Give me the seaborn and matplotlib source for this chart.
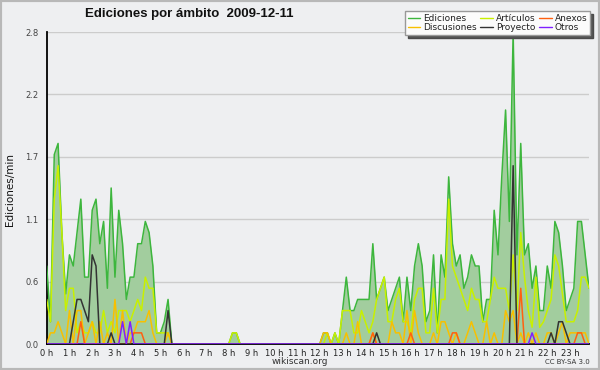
import numpy as np
import matplotlib
matplotlib.use('Agg')
import matplotlib.pyplot as plt
import seaborn as sns
from matplotlib.ticker import MultipleLocator
from matplotlib.lines import Line2D
from matplotlib.patches import Rectangle

sns.set_style('white')
plt.rcParams['font.family'] = ['DejaVu Sans']

# 10-minute bins across the day (144 bins)
minutes = np.arange(0, 1440, 10)
hours = minutes / 60

hour_labels = [f'{h} h' for h in range(24)]
y_ticks = [0.0, 0.56, 1.12, 1.68, 2.24, 2.8]
y_tick_labels = ['0.0', '0.6', '1.1', '1.7', '2.2', '2.8']

# edits per minute
ediciones = [
    0.7, 0.2, 1.7, 1.8, 1.0, 0.45, 0.8, 0.7, 1.0, 1.3, 0.6, 0.6,
    1.2, 1.3, 0.9, 1.1, 0.5, 1.4, 0.6, 1.2, 0.9, 0.4, 0.6, 0.6,
    0.9, 0.9, 1.1, 1.0, 0.7, 0.1, 0.1, 0.2, 0.4, 0.0, 0.0, 0.0,
    0.0, 0.0, 0.0, 0.0, 0.0, 0.0, 0.0, 0.0, 0.0, 0.0, 0.0, 0.0,
    0.0, 0.1, 0.1, 0.0, 0.0, 0.0, 0.0, 0.0, 0.0, 0.0, 0.0, 0.0,
    0.0, 0.0, 0.0, 0.0, 0.0, 0.0, 0.0, 0.0, 0.0, 0.0, 0.0, 0.0,
    0.0, 0.1, 0.1, 0.0, 0.1, 0.0, 0.3, 0.6, 0.3, 0.3, 0.4, 0.4,
    0.4, 0.4, 0.9, 0.4, 0.5, 0.6, 0.3, 0.4, 0.5, 0.6, 0.2, 0.6,
    0.3, 0.7, 0.9, 0.7, 0.2, 0.3, 0.8, 0.1, 0.8, 0.6, 1.5, 0.9,
    0.7, 0.8, 0.5, 0.6, 0.8, 0.7, 0.7, 0.2, 0.4, 0.4, 1.2, 0.8,
    1.5, 2.1, 1.1, 2.8, 0.8, 1.8, 0.8, 0.9, 0.5, 0.7, 0.3, 0.3,
    0.7, 0.5, 1.1, 1.0, 0.7, 0.3, 0.4, 0.5, 1.1, 1.1, 0.8, 0.5,
]
articulos = [
    0.4, 0.2, 1.3, 1.6, 1.0, 0.3, 0.5, 0.5, 0.1, 0.2, 0.1, 0.1,
    0.2, 0.1, 0.1, 0.3, 0.1, 0.2, 0.1, 0.3, 0.3, 0.3, 0.2, 0.3,
    0.4, 0.3, 0.6, 0.5, 0.5, 0.1, 0.1, 0.1, 0.1, 0.0, 0.0, 0.0,
    0.0, 0.0, 0.0, 0.0, 0.0, 0.0, 0.0, 0.0, 0.0, 0.0, 0.0, 0.0,
    0.0, 0.1, 0.1, 0.0, 0.0, 0.0, 0.0, 0.0, 0.0, 0.0, 0.0, 0.0,
    0.0, 0.0, 0.0, 0.0, 0.0, 0.0, 0.0, 0.0, 0.0, 0.0, 0.0, 0.0,
    0.0, 0.0, 0.1, 0.0, 0.1, 0.0, 0.3, 0.3, 0.3, 0.1, 0.1, 0.3,
    0.2, 0.1, 0.2, 0.4, 0.5, 0.6, 0.2, 0.2, 0.4, 0.5, 0.2, 0.2,
    0.1, 0.4, 0.5, 0.5, 0.1, 0.1, 0.5, 0.1, 0.4, 0.4, 1.3, 0.7,
    0.6, 0.5, 0.4, 0.3, 0.5, 0.4, 0.4, 0.2, 0.2, 0.4, 0.6, 0.5,
    0.5, 0.5, 0.3, 0.8, 0.3, 1.0, 0.6, 0.3, 0.15, 0.6, 0.15, 0.2,
    0.3, 0.4, 0.8, 0.7, 0.45, 0.2, 0.2, 0.2, 0.3, 0.6, 0.6, 0.5,
]
discusiones = [
    0.0, 0.1, 0.1, 0.2, 0.1, 0.0, 0.3, 0.0, 0.3, 0.3, 0.0, 0.1,
    0.2, 0.0, 0.2, 0.0, 0.1, 0.0, 0.4, 0.0, 0.3, 0.0, 0.1, 0.1,
    0.2, 0.2, 0.2, 0.3, 0.1, 0.0, 0.0, 0.0, 0.1, 0.0, 0.0, 0.0,
    0.0, 0.0, 0.0, 0.0, 0.0, 0.0, 0.0, 0.0, 0.0, 0.0, 0.0, 0.0,
    0.0, 0.0, 0.0, 0.0, 0.0, 0.0, 0.0, 0.0, 0.0, 0.0, 0.0, 0.0,
    0.0, 0.0, 0.0, 0.0, 0.0, 0.0, 0.0, 0.0, 0.0, 0.0, 0.0, 0.0,
    0.0, 0.1, 0.1, 0.0, 0.0, 0.0, 0.0, 0.1, 0.0, 0.0, 0.2, 0.0,
    0.0, 0.0, 0.1, 0.0, 0.0, 0.0, 0.0, 0.2, 0.1, 0.1, 0.0, 0.3,
    0.0, 0.3, 0.1, 0.0, 0.0, 0.0, 0.1, 0.0, 0.2, 0.2, 0.1, 0.0,
    0.1, 0.0, 0.0, 0.1, 0.2, 0.1, 0.0, 0.0, 0.2, 0.0, 0.1, 0.0,
    0.0, 0.3, 0.2, 0.3, 0.0, 0.1, 0.0, 0.1, 0.0, 0.1, 0.0, 0.0,
    0.1, 0.1, 0.0, 0.1, 0.2, 0.0, 0.1, 0.1, 0.1, 0.1, 0.1, 0.0,
]
proyecto = [
    0.0, 0.0, 0.0, 0.0, 0.0, 0.0, 0.0, 0.2, 0.4, 0.4, 0.3, 0.2,
    0.8, 0.7, 0.0, 0.0, 0.0, 0.1, 0.0, 0.0, 0.0, 0.0, 0.0, 0.0,
    0.0, 0.0, 0.0, 0.0, 0.0, 0.0, 0.0, 0.0, 0.3, 0.0, 0.0, 0.0,
    0.0, 0.0, 0.0, 0.0, 0.0, 0.0, 0.0, 0.0, 0.0, 0.0, 0.0, 0.0,
    0.0, 0.0, 0.0, 0.0, 0.0, 0.0, 0.0, 0.0, 0.0, 0.0, 0.0, 0.0,
    0.0, 0.0, 0.0, 0.0, 0.0, 0.0, 0.0, 0.0, 0.0, 0.0, 0.0, 0.0,
    0.0, 0.0, 0.0, 0.0, 0.0, 0.0, 0.0, 0.0, 0.0, 0.0, 0.0, 0.0,
    0.0, 0.0, 0.0, 0.1, 0.0, 0.0, 0.0, 0.0, 0.0, 0.0, 0.0, 0.0,
    0.0, 0.0, 0.0, 0.0, 0.0, 0.0, 0.0, 0.0, 0.0, 0.0, 0.0, 0.0,
    0.0, 0.0, 0.0, 0.0, 0.0, 0.0, 0.0, 0.0, 0.0, 0.0, 0.0, 0.0,
    0.0, 0.0, 0.0, 1.6, 0.0, 0.0, 0.0, 0.0, 0.0, 0.0, 0.0, 0.0,
    0.0, 0.1, 0.0, 0.2, 0.2, 0.1, 0.0, 0.0, 0.0, 0.0, 0.0, 0.0,
]
anexos = [
    0.0, 0.0, 0.0, 0.0, 0.0, 0.0, 0.0, 0.0, 0.0, 0.2, 0.0, 0.0,
    0.0, 0.0, 0.0, 0.0, 0.0, 0.0, 0.0, 0.0, 0.0, 0.0, 0.0, 0.1,
    0.1, 0.1, 0.0, 0.0, 0.0, 0.0, 0.0, 0.0, 0.0, 0.0, 0.0, 0.0,
    0.0, 0.0, 0.0, 0.0, 0.0, 0.0, 0.0, 0.0, 0.0, 0.0, 0.0, 0.0,
    0.0, 0.0, 0.0, 0.0, 0.0, 0.0, 0.0, 0.0, 0.0, 0.0, 0.0, 0.0,
    0.0, 0.0, 0.0, 0.0, 0.0, 0.0, 0.0, 0.0, 0.0, 0.0, 0.0, 0.0,
    0.0, 0.0, 0.0, 0.0, 0.0, 0.0, 0.0, 0.0, 0.0, 0.0, 0.0, 0.0,
    0.0, 0.0, 0.1, 0.0, 0.0, 0.0, 0.0, 0.0, 0.0, 0.0, 0.0, 0.0,
    0.1, 0.0, 0.0, 0.0, 0.0, 0.0, 0.0, 0.0, 0.0, 0.0, 0.0, 0.1,
    0.1, 0.0, 0.0, 0.0, 0.0, 0.0, 0.0, 0.0, 0.0, 0.0, 0.0, 0.0,
    0.0, 0.0, 0.0, 0.0, 0.0, 0.5, 0.0, 0.0, 0.0, 0.0, 0.0, 0.0,
    0.0, 0.0, 0.0, 0.0, 0.0, 0.0, 0.0, 0.0, 0.1, 0.1, 0.0, 0.0,
]
otros = [
    0.0, 0.0, 0.0, 0.0, 0.0, 0.0, 0.0, 0.0, 0.0, 0.0, 0.0, 0.0,
    0.0, 0.0, 0.0, 0.0, 0.0, 0.0, 0.0, 0.0, 0.2, 0.0, 0.2, 0.0,
    0.0, 0.0, 0.0, 0.0, 0.0, 0.0, 0.0, 0.0, 0.0, 0.0, 0.0, 0.0,
    0.0, 0.0, 0.0, 0.0, 0.0, 0.0, 0.0, 0.0, 0.0, 0.0, 0.0, 0.0,
    0.0, 0.0, 0.0, 0.0, 0.0, 0.0, 0.0, 0.0, 0.0, 0.0, 0.0, 0.0,
    0.0, 0.0, 0.0, 0.0, 0.0, 0.0, 0.0, 0.0, 0.0, 0.0, 0.0, 0.0,
    0.0, 0.0, 0.0, 0.0, 0.0, 0.0, 0.0, 0.0, 0.0, 0.0, 0.0, 0.0,
    0.0, 0.0, 0.0, 0.0, 0.0, 0.0, 0.0, 0.0, 0.0, 0.0, 0.0, 0.0,
    0.0, 0.0, 0.0, 0.0, 0.0, 0.0, 0.0, 0.0, 0.0, 0.0, 0.0, 0.0,
    0.0, 0.0, 0.0, 0.0, 0.0, 0.0, 0.0, 0.0, 0.0, 0.0, 0.0, 0.0,
    0.0, 0.0, 0.0, 0.0, 0.0, 0.0, 0.0, 0.0, 0.1, 0.0, 0.0, 0.0,
    0.0, 0.0, 0.0, 0.0, 0.0, 0.0, 0.0, 0.0, 0.0, 0.0, 0.0, 0.0,
]

bg = '#eeeff1'
colors = {
    'Ediciones': '#3db63d',
    'Artículos': '#c8f000',
    'Discusiones': '#f8c000',
    'Proyecto': '#333333',
    'Anexos': '#ff6010',
    'Otros': '#7f20ff',
}

fig = plt.figure(figsize=(6, 3.7), dpi=100, facecolor=bg)
ax = fig.add_axes([46.7 / 600, 26 / 370, (589 - 46.7) / 600, 312 / 370])
ax.set_facecolor(bg)

# filled total, then the namespaces on top
ax.fill_between(hours, ediciones, color='#a2cd9e', lw=0, zorder=1)
series = [('Ediciones', ediciones), ('Artículos', articulos),
          ('Discusiones', discusiones), ('Anexos', anexos),
          ('Proyecto', proyecto), ('Otros', otros)]
for name, vals in series:
    sns.lineplot(x=hours, y=vals, color=colors[name], lw=1.1, ax=ax, zorder=3)

ax.set_xlim(0, hours[-1])
ax.set_ylim(0, 2.8)
ax.set_xticks(range(24))
ax.set_xticklabels(hour_labels, fontsize=6, color='#222222')
ax.xaxis.set_minor_locator(MultipleLocator(1 / 6))
ax.set_yticks(y_ticks)
ax.set_yticklabels(y_tick_labels, fontsize=6, color='#444444')
ax.yaxis.set_minor_locator(MultipleLocator(0.14))
ax.tick_params(axis='x', which='major', direction='out', length=3, width=1, pad=0.5, color='black')
ax.tick_params(axis='x', which='minor', direction='out', length=3, width=1, color='black')
ax.tick_params(axis='y', which='major', direction='out', length=5, width=1, pad=1, color='black')
ax.tick_params(axis='y', which='minor', direction='out', length=3, width=1, color='black')
ax.yaxis.grid(True, color='#cccccc', lw=1)
ax.set_axisbelow(True)
for s in ['top', 'right']:
    ax.spines[s].set_visible(False)
for s in ['left', 'bottom']:
    ax.spines[s].set_color('black')
    ax.spines[s].set_linewidth(1.3)
ax.set_xlabel('')
ax.set_ylabel('')

fig.text(10 / 600, 1 - 190 / 370, 'Ediciones/min', fontsize=7.5, rotation=90,
         ha='center', va='center', color='#111111')
fig.text(85 / 600, 1 - 14 / 370, 'Ediciones por ámbito  2009-12-11',
         fontsize=9.5, fontweight='bold', ha='left', va='center', color='#111111',
         family=['Liberation Sans', 'DejaVu Sans'])
fig.text(0.5, 1 - 362 / 370, 'wikiscan.org', fontsize=6.5, ha='center', va='center', color='#333333')
fig.text(590 / 600, 1 - 362 / 370, 'CC BY-SA 3.0', fontsize=5, ha='right', va='center', color='#333333')

order = ['Ediciones', 'Discusiones', 'Artículos', 'Proyecto', 'Anexos', 'Otros']
handles = [Line2D([], [], color=colors[n], lw=1) for n in order]
leg = fig.legend(handles, order, loc='upper right', bbox_to_anchor=(590 / 600, 1 - 11 / 370),
                 ncol=3, fontsize=6.5, frameon=True, fancybox=False,
                 shadow={'facecolor': '#555555', 'alpha': 1},
                 handlelength=1.4, handletextpad=0.35, columnspacing=0.35,
                 labelspacing=0.05, borderpad=0.3, borderaxespad=0)
leg.get_frame().set_edgecolor('#999999')
leg.get_frame().set_facecolor('#fbfbfb')
for t in leg.get_texts():
    t.set_color('#222222')

fig.patches.append(Rectangle((0, 0), 1, 1, transform=fig.transFigure, fill=False,
                             edgecolor='#b8b8b8', lw=3))

fig.savefig('out.png', dpi=100, facecolor=bg)
